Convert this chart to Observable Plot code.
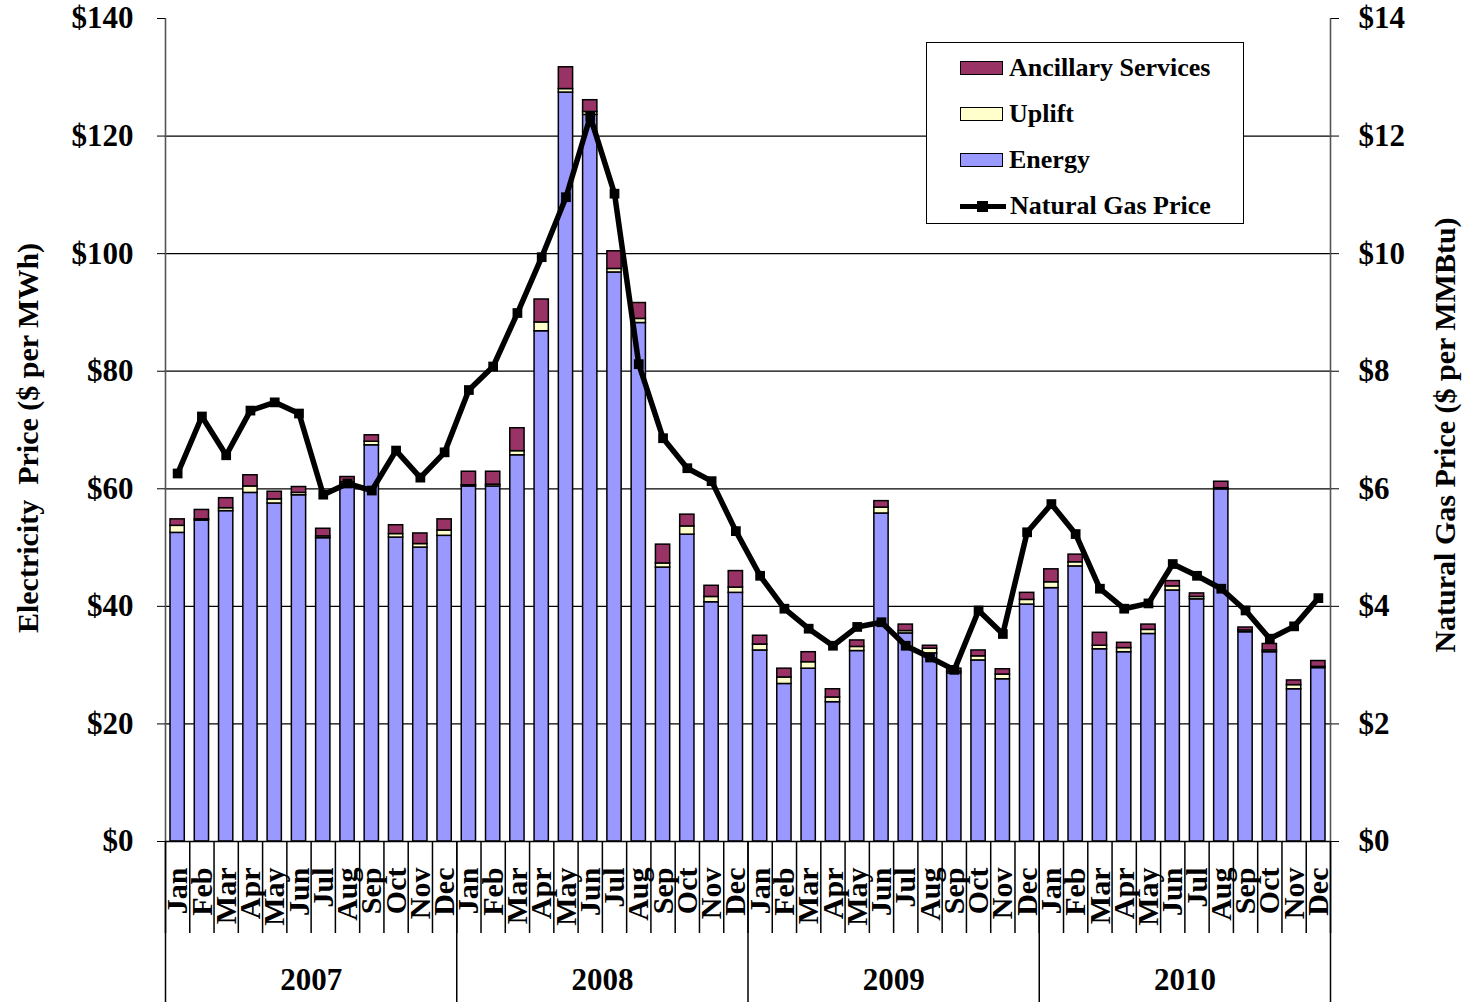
<!DOCTYPE html>
<html>
<head>
<meta charset="utf-8">
<script src="https://cdn.jsdelivr.net/npm/d3@7"></script>
<script src="https://cdn.jsdelivr.net/npm/@observablehq/plot@0.6"></script>
<style>
  html, body { margin: 0; padding: 0; background: #fff; }
  #wrap { position: relative; width: 1463px; height: 1002px; font-family: 'Liberation Serif', 'Times New Roman', serif; font-weight: bold; }
  #legend { position: absolute; left: 926px; top: 42px; width: 316px; height: 180px; border: 1.5px solid #000; background: #fff; }
  .row { position: absolute; left: 33px; height: 30px; display: flex; align-items: center; font-size: 26px; }
  .sw { width: 41px; height: 12px; border: 1.5px solid #000; margin-right: 6px; }
  .ln { position: relative; width: 46px; height: 5px; background: #000; margin-right: 4px; }
  .ln::after { content: ""; position: absolute; left: 17px; top: -3px; width: 11px; height: 11px; background: #000; }
</style>
</head>
<body>
<div id="wrap"></div>
<script>
const months = ["Jan","Feb","Mar","Apr","May","Jun","Jul","Aug","Sep","Oct","Nov","Dec"];
const years = ["2007","2008","2009","2010"];
const energy = [
  52.5,54.6,56.2,59.3,57.5,58.9,51.6,60.8,67.4,51.7,50.0,52.0,
  60.4,60.4,65.7,86.8,127.4,123.6,96.8,88.2,46.6,52.2,40.7,42.3,
  32.5,26.8,29.4,23.7,32.4,55.8,35.4,32.0,28.6,30.8,27.6,40.3,
  43.1,46.8,32.7,32.2,35.3,42.7,41.2,59.9,35.6,32.2,25.9,29.5];
const uplift = [
  1.2,0.2,0.5,1.1,0.7,0.4,0.3,0.3,0.6,0.6,0.6,0.9,
  0.2,0.3,0.7,1.5,0.6,0.5,0.6,0.7,0.7,1.4,0.9,0.9,
  1.0,1.1,1.1,0.8,0.7,1.0,0.4,0.8,0.3,0.7,0.8,0.8,
  1.0,0.7,0.6,0.7,0.7,0.7,0.4,0.2,0.3,0.3,0.7,0.2];
const ancillary = [
  1.1,1.6,1.7,1.9,1.3,1.0,1.3,0.9,1.1,1.5,1.8,1.9,
  2.3,2.2,3.9,3.9,3.7,2.0,3.0,2.7,3.2,2.0,1.9,2.8,
  1.5,1.5,1.7,1.4,1.1,1.1,1.1,0.5,0.5,1.0,0.9,1.2,
  2.2,1.3,2.2,0.9,0.9,0.9,0.6,1.1,0.5,1.1,0.8,1.0];
const gas = [
  6.26,7.23,6.57,7.33,7.47,7.28,5.90,6.09,5.97,6.65,6.19,6.62,
  7.68,8.08,8.99,9.94,10.96,12.33,11.02,8.12,6.86,6.35,6.13,5.28,
  4.52,3.96,3.62,3.33,3.65,3.73,3.33,3.13,2.92,3.93,3.53,5.26,
  5.74,5.23,4.30,3.96,4.05,4.72,4.52,4.30,3.93,3.45,3.66,4.14];
const elecTicks = [0,20,40,60,80,100,120,140];
const gasTicks = [0,2,4,6,8,10,12,14];
const seriesNames = ["Energy","Uplift","Ancillary Services"];
const seriesColors = ["#9999FF","#FFFFCC","#993366"];

const n = energy.length;
const rows = [];
for (let i = 0; i < n; i++) {
  let base = 0;
  [energy, uplift, ancillary].forEach((arr, k) => {
    rows.push({i, series: seriesNames[k], y1: base, y2: base + arr[i]});
    base += arr[i];
  });
}
const gasRows = gas.map((v, i) => ({i, v}));
const ratio = 140 / 14;

const chart = Plot.plot({
  width: 1463,
  height: 1002,
  marginLeft: 165,
  marginRight: 133,
  marginTop: 18,
  marginBottom: 161,
  style: {fontFamily: "'Liberation Serif', 'Times New Roman', serif", fontWeight: "bold", fontSize: "31px", color: "#000", background: "transparent", overflow: "visible"},
  x: {domain: [0, n]},
  y: {domain: [0, 140]},
  color: {domain: seriesNames, range: seriesColors},
  marks: [
    Plot.ruleY(elecTicks.filter(t => t > 0 && t < 140), {stroke: "#000", strokeWidth: 1.3}),
    Plot.rect(rows, {x1: d => d.i, x2: d => d.i + 1, y1: "y1", y2: "y2", fill: "series", stroke: "#000", strokeWidth: 1.5, insetLeft: 5, insetRight: 5}),
    Plot.ruleX([0, n], {stroke: "#555", strokeWidth: 1.6}),
    Plot.ruleY([0], {stroke: "#000", strokeWidth: 1.6}),
    Plot.line(gasRows, {x: d => d.i + 0.5, y: d => d.v * ratio, stroke: "#000", strokeWidth: 5.5}),
    Plot.dot(gasRows, {x: d => d.i + 0.5, y: d => d.v * ratio, symbol: "square", r: 5.5, fill: "#000"}),
    Plot.axisY({anchor: "left", ticks: elecTicks, tickSize: 8, tickPadding: 24, tickFormat: d => "$" + d, label: null, fontSize: 31}),
    Plot.axisY({anchor: "right", ticks: gasTicks.map(t => t * ratio), tickSize: 8, tickPadding: 20, tickFormat: d => "$" + (d / ratio), label: null, fontSize: 31}),
    Plot.axisX({ticks: d3.range(0, n + 1), tickSize: 92, tickFormat: () => "", label: null, strokeWidth: 1.5}),
    Plot.axisX({ticks: d3.range(0, n + 1, 12), tickSize: 161, tickFormat: () => "", label: null, strokeWidth: 1.5}),
    Plot.axisX({ticks: d3.range(n).map(i => i + 0.5), tickSize: 0, tickPadding: 26, tickRotate: -90, tickFormat: d => months[Math.floor(d) % 12], label: null, fontSize: 30}),
    Plot.text(years, {x: (d, i) => i * 12 + 6, frameAnchor: "bottom", dy: 148, text: d => d, fontSize: 31}),
    Plot.text(["Electricity  Price ($ per MWh)"], {frameAnchor: "left", textAnchor: "middle", dx: -137, dy: 8, rotate: -90, fontSize: 30}),
    Plot.text(["Natural Gas Price ($ per MMBtu)"], {frameAnchor: "right", textAnchor: "middle", dx: 115, dy: 5, rotate: -90, fontSize: 30})
  ]
});

const wrap = document.getElementById("wrap");
wrap.appendChild(chart);

const legend = document.createElement("div");
legend.id = "legend";
const entries = [
  {label: "Ancillary Services", color: seriesColors[2]},
  {label: "Uplift", color: seriesColors[1]},
  {label: "Energy", color: seriesColors[0]},
  {label: "Natural Gas Price", line: true}
];
entries.forEach((e, k) => {
  const r = document.createElement("div");
  r.className = "row";
  r.style.top = (10 + k * 46) + "px";
  const s = document.createElement("div");
  if (e.line) { s.className = "ln"; } else { s.className = "sw"; s.style.background = e.color; }
  r.appendChild(s);
  const t = document.createElement("span");
  t.textContent = e.label;
  r.appendChild(t);
  legend.appendChild(r);
});
wrap.appendChild(legend);
</script>
</body>
</html>
